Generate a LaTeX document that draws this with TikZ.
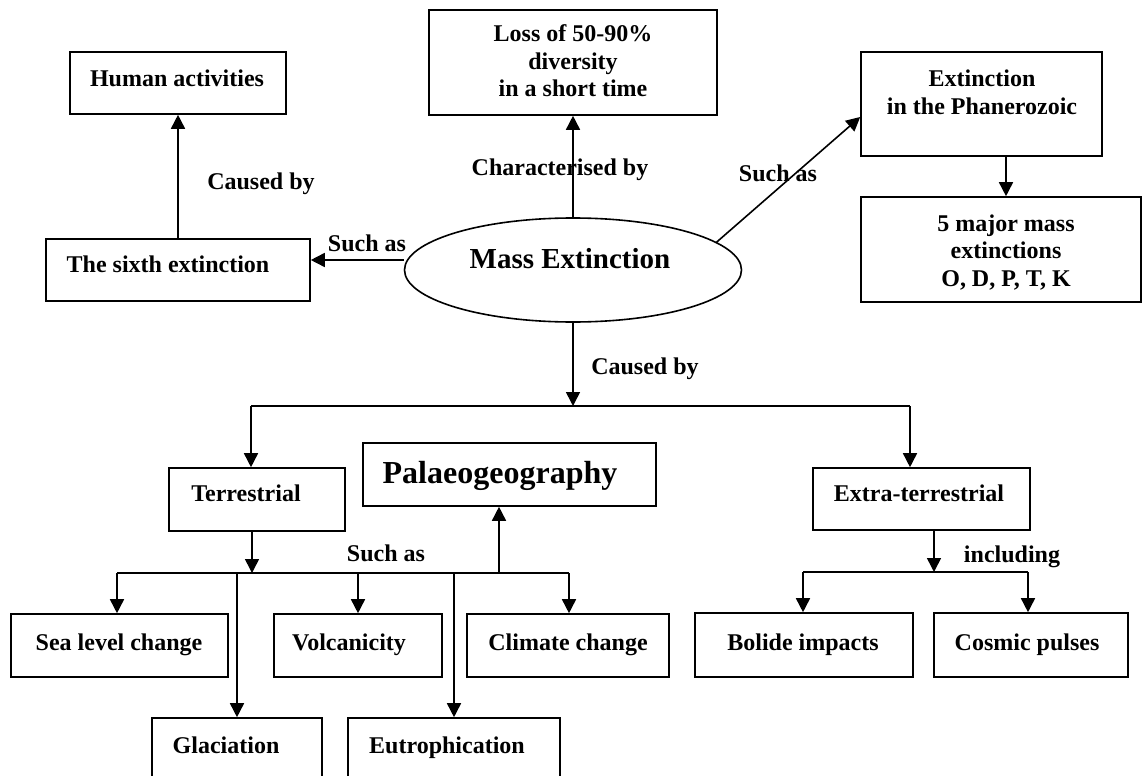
\documentclass[tikz,border=0pt]{standalone}
\usepackage{fontspec}
\setmainfont{Liberation Serif}
\usetikzlibrary{arrows.meta,shapes.geometric}
\begin{document}
\begin{tikzpicture}[x=1pt,y=-1pt,
  wire/.style={line width=1.6pt},
  arr/.style={wire,-{Triangle[length=14pt,width=14pt]}},
  box/.style={draw,line width=1.6pt,inner sep=0pt},
  txt/.style={font=\bfseries\fontsize{24}{27.6}\selectfont,inner sep=0pt,anchor=base},
  mtxt/.style={font=\bfseries\fontsize{24}{27.6}\selectfont,inner sep=0pt,align=center},
  bigtxt/.style={font=\bfseries\fontsize{29}{33}\selectfont,inner sep=0pt,anchor=base},
  hugetxt/.style={font=\bfseries\fontsize{32}{36}\selectfont,inner sep=0pt,anchor=base}
]
\path[use as bounding box] (0,0) rectangle (1143,776);
\clip (0,0) rectangle (1143,776);
\fill[white] (0,0) rectangle (1143,776);

% boxes
\node[box,minimum width=216pt,minimum height=62pt] (human) at (178,83) {};
\node[box,minimum width=264pt,minimum height=62pt] (sixth) at (178,270) {};
\node[box,minimum width=288pt,minimum height=105pt] (loss) at (573,62.5) {};
\node[box,minimum width=241pt,minimum height=104pt] (phan) at (981.5,104) {};
\node[box,minimum width=280pt,minimum height=105pt] (five) at (1001,249.5) {};
\node[box,minimum width=176pt,minimum height=63pt] (terr) at (257,499.5) {};
\node[box,minimum width=293pt,minimum height=63pt] (palaeo) at (509.5,474.5) {};
\node[box,minimum width=217pt,minimum height=62pt] (extra) at (921.5,499) {};
\node[box,minimum width=217pt,minimum height=63pt] (sea) at (119.5,645.5) {};
\node[box,minimum width=168pt,minimum height=63pt] (volc) at (358,645.5) {};
\node[box,minimum width=202pt,minimum height=63pt] (climate) at (568,645.5) {};
\node[box,minimum width=170pt,minimum height=72pt] (glac) at (237,754) {};
\node[box,minimum width=212pt,minimum height=72pt] (eutro) at (454,754) {};
\node[box,minimum width=218pt,minimum height=64pt] (bolide) at (804,645) {};
\node[box,minimum width=194pt,minimum height=64pt] (cosmic) at (1031,645) {};
\node[ellipse,draw,line width=1.6pt,inner sep=0pt,minimum width=337pt,minimum height=104pt] (me) at (573,270) {};

% texts
\node[txt] (humant) at (177,86) {Human activities};
\node[txt] (sixtht) at (168,272) {The sixth extinction};
\node[mtxt] (losst) at (573,61) {Loss of 50-90\%\\diversity\\in a short time};
\node[mtxt] (phant) at (982,92) {Extinction\\in the Phanerozoic};
\node[mtxt] (fivet) at (1006,252.5) {5 major mass\\extinctions\\O, D, P, T, K};
\node[bigtxt] (met) at (570,268) {Mass Extinction};
\node[txt] (terrt) at (246,501) {Terrestrial};
\node[hugetxt] (palaeot) at (500,483) {Palaeogeography};
\node[txt] (extrat) at (919,501) {Extra-terrestrial};
\node[txt] (seat) at (119,650) {Sea level change};
\node[txt] (volct) at (349,650) {Volcanicity};
\node[txt] (climatet) at (568,650) {Climate change};
\node[txt] (glact) at (226,753) {Glaciation};
\node[txt] (eutrot) at (447,753) {Eutrophication};
\node[txt] (bolidet) at (803,650) {Bolide impacts};
\node[txt] (cosmict) at (1027,650) {Cosmic pulses};

% connector labels
\node[txt] (lcaused1) at (261,189) {Caused by};
\node[txt] (lsuch1) at (367,251) {Such as};
\node[txt] (lchar) at (560,175) {Characterised by};
\node[txt] (lsuch2) at (778,181) {Such as};
\node[txt] (lcaused2) at (645,374) {Caused by};
\node[txt] (lsuch3) at (386,561) {Such as};
\node[txt] (lincl) at (1012,562) {including};

% junction coordinates
\coordinate (busM) at (573,406);
\coordinate (busL) at (251,406);
\coordinate (busR) at (910,406);
\coordinate (t2) at (252,573);
\coordinate (b2L) at (117,573);
\coordinate (b2R) at (569,573);
\coordinate (pU) at (499,573);
\coordinate (e2) at (934,572);
\coordinate (b3L) at (803,572);
\coordinate (b3R) at (1028,572);

% connectors
\draw[arr] (sixth.north) -- (sixth.north |- human.south);
\draw[arr] ([yshift=10pt]me.west) -- ([yshift=10pt]sixth.east);
\draw[arr] (me.north) -- (loss.south);
\draw[arr] (me.11) -- ([yshift=-13pt]phan.west);
\draw[arr] (phan.south -| fivet) -- (five.north -| fivet);
\draw[arr] (me.south) -- (busM);
\draw[wire] (busL) -- (busR);
\draw[arr] (busL) -- (busL |- terr.north);
\draw[arr] (busR) -- (busR |- extra.north);
\draw[arr] (terr.south -| t2) -- (t2);
\draw[wire] (b2L) -- (b2R);
\draw[arr] (b2L) -- (b2L |- sea.north);
\draw[arr] (glac.north |- b2L) -- (glac.north);
\draw[arr] (volc.north |- b2L) -- (volc.north);
\draw[arr] (eutro.north |- b2L) -- (eutro.north);
\draw[arr] (b2R) -- (b2R |- climate.north);
\draw[arr] (pU) -- (pU |- palaeo.south);
\draw[arr] (extra.south -| e2) -- (e2);
\draw[wire] (b3L) -- (b3R);
\draw[arr] (b3L) -- (b3L |- bolide.north);
\draw[arr] (b3R) -- (b3R |- cosmic.north);
\end{tikzpicture}
\end{document}
